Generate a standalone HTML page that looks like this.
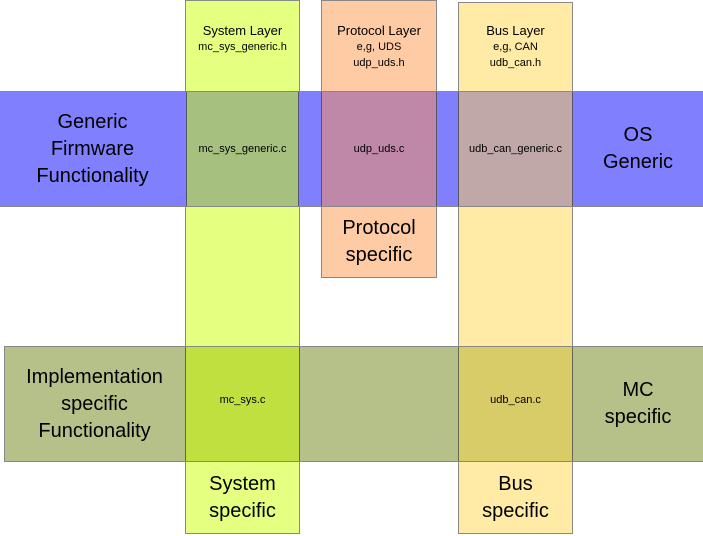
<!DOCTYPE html>
<html><head><meta charset="utf-8"><style>
body{margin:0;width:703px;height:536px;position:relative;background:#fff;font-family:"Liberation Sans",sans-serif;overflow:hidden}
div{position:absolute;box-sizing:border-box}
.t{text-align:center;color:#000;display:flex;align-items:center;justify-content:center;line-height:1.35}
.b{border:1px solid #888}
.h{text-align:center;color:#000;line-height:16px;font-size:13px}
.h span{display:block}
.h span.s{font-size:11px}
</style></head><body>
<div class="b" style="left:185px;top:0;width:115px;height:534px;background:#e5ff80"></div>
<div class="b" style="left:321px;top:0;width:116px;height:278px;background:#ffcba4"></div>
<div class="b" style="left:458px;top:2px;width:115px;height:532px;background:#ffeaa6"></div>
<div class="b" style="left:0;top:91px;width:703px;height:116px;background:#8080ff;border-left:none;border-right:none"></div>
<div style="left:186px;top:92px;width:113px;height:114px;background:#a6c080;border-left:1px solid #556;border-right:1px solid #556"></div>
<div style="left:321px;top:92px;width:116px;height:114px;background:#c088a8;border-left:1px solid #556;border-right:1px solid #556"></div>
<div style="left:458px;top:92px;width:115px;height:114px;background:#c0a8a8;border-left:1px solid #556;border-right:1px solid #556"></div>
<div class="b" style="left:4px;top:346px;width:699px;height:116px;background:#b5c188;border-right:none"></div>
<div style="left:185px;top:347px;width:115px;height:114px;background:#c0e040;border-left:1px solid #665;border-right:1px solid #665"></div>
<div style="left:458px;top:347px;width:115px;height:114px;background:#d8cc68;border-left:1px solid #665;border-right:1px solid #665"></div>

<div class="h" style="left:185px;top:23px;width:115px"><span>System Layer</span><span class="s">mc_sys_generic.h</span></div>
<div class="h" style="left:321px;top:23px;width:116px"><span>Protocol Layer</span><span class="s">e,g, UDS</span><span class="s">udp_uds.h</span></div>
<div class="h" style="left:458px;top:23px;width:115px"><span>Bus Layer</span><span class="s">e,g, CAN</span><span class="s">udb_can.h</span></div>

<div class="t" style="left:0;top:91px;width:185px;height:116px;font-size:20px">Generic<br>Firmware<br>Functionality</div>
<div class="t" style="left:185px;top:91px;width:115px;height:116px;font-size:11px">mc_sys_generic.c</div>
<div class="t" style="left:321px;top:91px;width:116px;height:116px;font-size:11px">udp_uds.c</div>
<div class="t" style="left:458px;top:91px;width:115px;height:116px;font-size:11px">udb_can_generic.c</div>
<div class="t" style="left:573px;top:91px;width:130px;height:116px;font-size:20px">OS<br>Generic</div>
<div class="t" style="left:321px;top:207px;width:116px;height:70px;font-size:20px">Protocol<br>specific</div>

<div class="t" style="left:4px;top:346px;width:181px;height:116px;font-size:20px">Implementation<br>specific<br>Functionality</div>
<div class="t" style="left:185px;top:346px;width:115px;height:116px;font-size:11px;padding-bottom:8px">mc_sys.c</div>
<div class="t" style="left:458px;top:346px;width:115px;height:116px;font-size:11px;padding-bottom:8px">udb_can.c</div>
<div class="t" style="left:573px;top:346px;width:130px;height:116px;font-size:20px">MC<br>specific</div>
<div class="t" style="left:185px;top:462px;width:115px;height:72px;font-size:20px">System<br>specific</div>
<div class="t" style="left:458px;top:462px;width:115px;height:72px;font-size:20px">Bus<br>specific</div>
</body></html>
